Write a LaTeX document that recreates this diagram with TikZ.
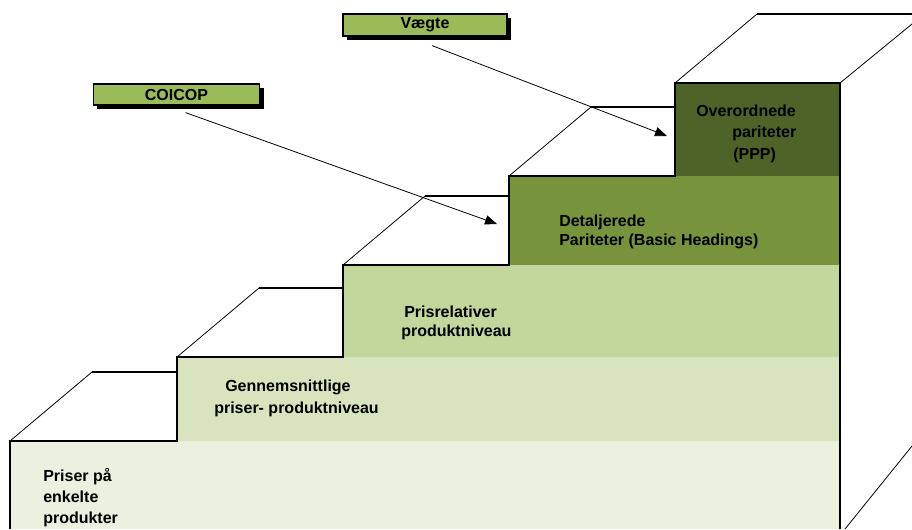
\documentclass[tikz,border=0pt]{standalone}
\usepackage{fontspec}
\setmainfont{Liberation Sans}
\usetikzlibrary{arrows.meta,shadows}
\definecolor{trinA}{HTML}{EBF1DE}
\definecolor{trinB}{HTML}{D7E4BD}
\definecolor{trinC}{HTML}{C3D69B}
\definecolor{trinD}{HTML}{77933C}
\definecolor{trinE}{HTML}{4F6228}
\definecolor{boks}{HTML}{9BBB59}

\begin{document}
\begin{tikzpicture}[x=0.75pt,y=-0.75pt,>={Triangle[length=9pt,width=7pt]},
    kant/.style={line width=1.1pt,line join=miter},
    tynd/.style={line width=0.6pt},
    tekst/.style={font=\bfseries\fontsize{12pt}{#1}\selectfont,align=left,anchor=base west,inner sep=0pt},
    etiket/.style={draw,line width=0.9pt,fill=boks,font=\bfseries\fontsize{12pt}{14pt}\selectfont,inner sep=0pt,
      drop shadow={shadow xshift=3pt,shadow yshift=-3pt,fill=black,opacity=1}}]
    \useasboundingbox (0,0) rectangle (912,529);

    \foreach \xl/\yt/\yb/\farve in {10/441/529/trinA,177/357/441/trinB,343/265/357/trinC,509/176/265/trinD,675/83/176/trinE}
      \fill[\farve] (\xl,\yt) rectangle (840,\yb);
    \foreach \xl/\yt/\xn in {10/441/177,177/357/343,343/265/509,509/176/675,675/83/840}{
      \draw[tynd] (\xl,\yt) -- ++(82,-69);
      \draw[line width=0.9pt] (\xl+82,\yt-69) -- (\xn,\yt-69);
    }
    \draw[line width=0.9pt] (757,14) -- (912,14);
    \draw[tynd] (840,83) -- (912,24);
    \draw[tynd] (845,529) -- (912,446);
    \draw[kant] (10,529) -- (10,441) -- (177,441) -- (177,357) -- (343,357) -- (343,265) -- (509,265)
      -- (509,176) -- (675,176) -- (675,83) -- (840,83) -- (840,529);

    % base anchor sits on the last line
    \node[tekst=15.75pt] (trin1) at (43,523) {Priser på\\enkelte\\produkter};
    \node[tekst=16.5pt] (trin2) at (214,413) {\hspace*{8.25pt}Gennemsnittlige\\priser- produktniveau};
    \node[tekst=14.25pt] (trin3) at (401,336) {\hspace*{2.25pt}Prisrelativer\\produktniveau};
    \node[tekst=14.25pt] (trin4) at (559,245) {Detaljerede\\Pariteter (Basic Headings)};
    \node[tekst=16pt] (trin5) at (696,159) {Overordnede\\\hspace*{27pt}pariteter\\\hspace*{27.75pt}(PPP)};

    \node[etiket,minimum width=123pt,minimum height=16.5pt] (vaegte) at (425,25) {Vægte};
    \node[etiket,minimum width=125pt,minimum height=15.75pt] (coicop) at (176.5,94.5) {COICOP};
    \coordinate (vaegtemaal) at (667,136);
    \coordinate (coicopmaal) at (497,224);

    \draw[tynd,->] ([shift={(7,9)}]vaegte.south) -- (vaegtemaal);
    \draw[tynd,->] ([shift={(9,7)}]coicop.south) -- (coicopmaal);
\end{tikzpicture}
\end{document}
